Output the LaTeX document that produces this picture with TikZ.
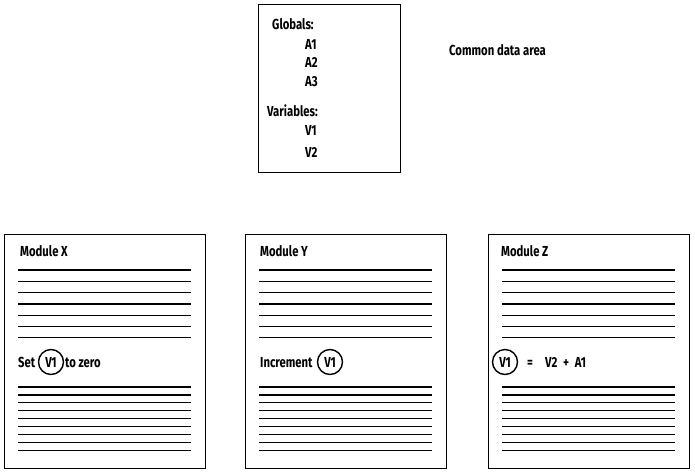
\documentclass[tikz,border=0pt]{standalone}
\usepackage{fontspec}
\newfontfamily\handfont{Fira Sans}[FakeStretch=0.78]
\usetikzlibrary{positioning}
\tikzset{
  modbox/.style={draw,line width=0.9pt,anchor=north west,inner sep=0pt,
    minimum width=201pt,minimum height=234pt},
  rule/.style={line width=1.2pt},
  handtext/.style={font=\handfont\bfseries\fontsize{14.5}{16}\selectfont,
    inner sep=0pt,anchor=base west},
  varring/.style={draw,circle,line width=1.4pt,minimum size=25pt,inner sep=0pt,
    font=\handfont\bfseries\fontsize{14.5}{16}\selectfont}
}
\begin{document}
\begin{tikzpicture}[x=1pt,y=-1pt]
\useasboundingbox (0,0) rectangle (695,474);
% common data area
\node[modbox,minimum width=142pt,minimum height=168pt] (common) at (258,4) {};
\node[handtext] (glob) at (272,29) {Globals:};
\node[handtext] (aone) at (305,49) {A1};
\node[handtext] (atwo) at (305,67) {A2};
\node[handtext] (athree) at (305,86) {A3};
\node[handtext] (vars) at (267,116) {Variables:};
\node[handtext] (vone) at (305,135) {V1};
\node[handtext] (vtwo) at (305,157) {V2};
\node[handtext] (commonlbl) at (449,55) {Common data area};
% modules
\node[modbox] (modx) at (4,234) {};
\node[modbox] (mody) at (245,234) {};
\node[modbox] (modz) at (488,234) {};
\node[handtext] (titlex) at (20,256) {Module X};
\node[handtext] (titley) at (260,256) {Module Y};
\node[handtext] (titlez) at (501,256) {Module Z};
\foreach \x in {4,245,488}{
  \foreach \i in {0,...,6}
    \draw[rule] (\x+14,270+11.3*\i) -- ++(173,0);
  \foreach \i in {0,...,8}
    \draw[rule] (\x+14,387+7.9*\i) -- ++(173,0);
}
% statements
\node[handtext] (setx) at (18,367) {Set};
\node[varring] (xvar) at (51,362) {V1};
\node[handtext] (zerox) at (65,367) {to zero};
\node[handtext] (incy) at (260,367) {Increment};
\node[varring] (yvar) at (330,362) {V1};
\node[varring] (zvar) at (505,362) {V1};
\node[handtext] (eqz) at (527,367) {=};
\node[handtext] (sumz) at (545,367) {V2\hspace{3pt} + \hspace{3pt}A1};
\end{tikzpicture}
\end{document}
